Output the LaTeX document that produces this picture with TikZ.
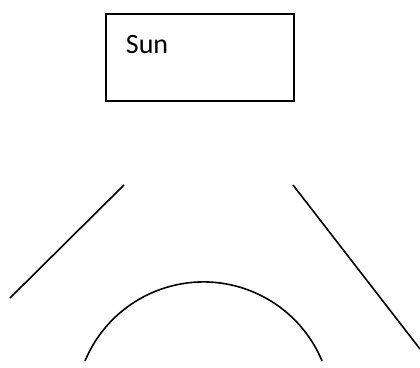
\documentclass[tikz,border=0pt]{standalone}
\usepackage{fontspec}
\setmainfont{Carlito}
\usetikzlibrary{positioning, calc}

\begin{document}
\begin{tikzpicture}[
    x=1pt, y=-1pt,
    every node/.style={font=\fontsize{28}{34}\selectfont},
    sunbox/.style={
        draw=black,
        line width=1.8pt,
        minimum width=188pt,
        minimum height=87pt,
        text width=148pt,
        inner xsep=20pt,
        align=left,
        text depth=25pt,
    },
    ray/.style={line width=1.6pt, black},
]
\useasboundingbox (0,0) rectangle (420,367);

\node[sunbox, anchor=north west] (sun) at (105,13) {Sun};

% rays on both sides
\coordinate (lefttop) at (124,185);
\coordinate (leftbot) at (10,298);
\coordinate (righttop) at (293,185);
\coordinate (rightbot) at (420,349);
\draw[ray] (lefttop) -- (leftbot);
\draw[ray] (righttop) -- (rightbot);

% earth
\draw[ray] (85,361) arc[start angle=157.4, end angle=22.6, radius=128.4pt];

\end{tikzpicture}
\end{document}
